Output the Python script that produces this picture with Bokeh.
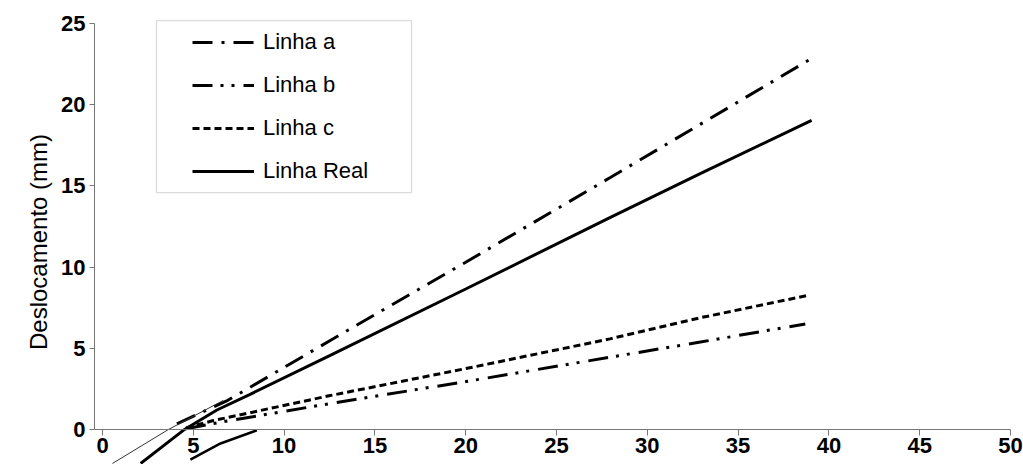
from bokeh.plotting import figure
from bokeh.models import Range1d, FixedTicker, Legend, LegendItem, BoxAnnotation
from bokeh.embed import file_html
from bokeh.resources import INLINE

# ---- data ----
x_ticks = [0, 5, 10, 15, 20, 25, 30, 35, 40, 45, 50]
y_ticks = [0, 5, 10, 15, 20, 25]

linha_a_x = [4.1, 6.9, 12.54, 20.0, 27.94, 33.0, 39.05]
linha_a_y = [0.35, 1.8, 5.48, 10.3, 15.5, 18.85, 22.85]

linha_b_x = [4.6, 6.5, 12.54, 20.0, 27.94, 33.0, 38.7]
linha_b_y = [0.05, 0.45, 1.6, 2.95, 4.45, 5.4, 6.5]

linha_c_x = [4.6, 6.1, 12.54, 20.0, 27.94, 33.0, 38.8]
linha_c_y = [0.1, 0.55, 2.09, 3.75, 5.58, 6.9, 8.25]

linha_real_x = [2.1, 4.45, 6.3, 8.1, 12.54, 20.0, 27.94, 33.0, 39.05]
linha_real_y = [-2.09, -0.05, 1.2, 2.15, 4.56, 8.65, 13.05, 15.8, 19.03]

traco_fino_x = [0.55, 3.63, 6.65]
traco_fino_y = [-2.09, 0.0, 1.79]

traco_baixo_x = [4.84, 6.5, 8.5]
traco_baixo_y = [-1.85, -0.86, -0.05]

FONT = "Liberation Sans"

p = figure(width=1023, height=464, output_backend="svg", toolbar_location=None,
           x_range=Range1d(-0.4405, 50.716), y_range=Range1d(-2.155, 25.246),
           min_border_left=94, min_border_right=0, min_border_top=19,
           min_border_bottom=0)
p.grid.visible = False
p.outline_line_color = None
p.background_fill_color = "white"
p.border_fill_color = "white"

ra = p.line(linha_a_x, linha_a_y, line_color="black", line_width=3, line_dash="20 9 3 9")
rb = p.line(linha_b_x, linha_b_y, line_color="black", line_width=3, line_dash="20 8 3 8 3 9")
rc = p.line(linha_c_x, linha_c_y, line_color="black", line_width=3, line_dash="7 4")
rr = p.line(linha_real_x, linha_real_y, line_color="black", line_width=3)
p.line(traco_fino_x, traco_fino_y, line_color="#333333", line_width=1)
p.line(traco_baixo_x, traco_baixo_y, line_color="black", line_width=2.5)

axis_color = "#777777"

xa = p.xaxis[0]
xa.fixed_location = 0
xa.ticker = FixedTicker(ticks=x_ticks)
xa.bounds = (-0.4405, 50)
xa.axis_line_color = axis_color
xa.major_tick_line_color = axis_color
xa.major_tick_out = 6
xa.major_tick_in = 0
xa.minor_tick_line_color = None
xa.major_label_standoff = 2
xa.major_label_text_font = FONT
xa.major_label_text_font_style = "bold"
xa.major_label_text_font_size = "22px"
xa.major_label_text_color = "black"

ya = p.yaxis[0]
ya.ticker = FixedTicker(ticks=y_ticks)
ya.bounds = (0, 25)
ya.axis_line_color = axis_color
ya.major_tick_line_color = axis_color
ya.major_tick_out = 5
ya.major_tick_in = 0
ya.minor_tick_line_color = None
ya.major_label_standoff = 4
ya.major_label_text_font = FONT
ya.major_label_text_font_style = "bold"
ya.major_label_text_font_size = "22px"
ya.major_label_text_color = "black"
ya.axis_label = "Deslocamento (mm)"
ya.axis_label_text_font = FONT
ya.axis_label_text_font_style = "normal"
ya.axis_label_text_font_size = "24px"
ya.axis_label_text_color = "black"
ya.axis_label_standoff = 6

# legend frame (decoration)
box = BoxAnnotation(left=2.97, right=17.02, bottom=14.59, top=25.18,
                    fill_alpha=0, line_color="#8a8a8a", line_width=1.3)
p.add_layout(box)

legend = Legend(items=[LegendItem(label="Linha a", renderers=[ra]),
                       LegendItem(label="Linha b", renderers=[rb]),
                       LegendItem(label="Linha c", renderers=[rc]),
                       LegendItem(label="Linha Real", renderers=[rr])],
                location=(98, 280), border_line_color=None,
                background_fill_alpha=0, padding=11, spacing=17,
                glyph_width=62, glyph_height=22, label_height=22,
                label_standoff=9, label_text_font=FONT,
                label_text_font_size="22px", label_text_color="black")
p.add_layout(legend)

open("out.html", "w").write(file_html(p, INLINE))
